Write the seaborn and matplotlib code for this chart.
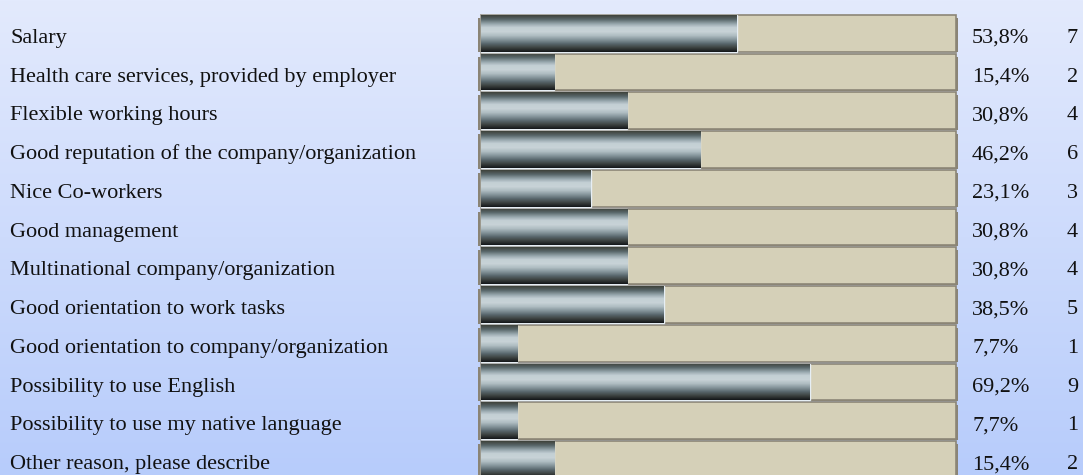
import numpy as np
import pandas as pd
import matplotlib
matplotlib.use("Agg")
import matplotlib.pyplot as plt
import matplotlib.transforms as mtransforms
from matplotlib.patches import Rectangle
from matplotlib.colors import LinearSegmentedColormap
import seaborn as sns

reasons = [
    "Salary",
    "Health care services, provided by employer",
    "Flexible working hours",
    "Good reputation of the company/organization",
    "Nice Co-workers",
    "Good management",
    "Multinational company/organization",
    "Good orientation to work tasks",
    "Good orientation to company/organization",
    "Possibility to use English",
    "Possibility to use my native language",
    "Other reason, please describe",
]
percents = [53.8, 15.4, 30.8, 46.2, 23.1, 30.8, 30.8, 38.5, 7.7, 69.2, 7.7, 15.4]
counts = [7, 2, 4, 6, 3, 4, 4, 5, 1, 9, 1, 2]

df = pd.DataFrame({"reason": reasons, "pct": percents, "n": counts, "full": 100})

sns.set_theme(style="white")
plt.rcParams["font.family"] = ["Liberation Serif", "DejaVu Serif"]

W, H = 1083, 475
fig = plt.figure(figsize=(W / 100, H / 100), dpi=100)

# light-to-blue background gradient
bg = fig.add_axes([0, 0, 1, 1], zorder=0)
grad = np.linspace(0, 1, 256).reshape(-1, 1)
bg_cmap = LinearSegmentedColormap.from_list("bg", ["#e3eafd", "#b7ccfb"])
bg.imshow(grad, cmap=bg_cmap, aspect="auto", extent=[0, 1, 0, 1], origin="upper")
bg.set_axis_off()

# bar area in pixels: x 478..958 (value 0 at 481, 100 at 956)
x0, x1 = 478, 958
ax = fig.add_axes([x0 / W, 0, (x1 - x0) / W, 1], zorder=1)
ax.patch.set_alpha(0)

sns.barplot(data=df, y="reason", x="full", orient="h", ax=ax, width=0.95,
            color="#d5d0b8", edgecolor="#8c8677", linewidth=1.2, saturation=1)
n_track = len(ax.patches)
sns.barplot(data=df, y="reason", x="pct", orient="h", ax=ax, width=0.95,
            color="#7f8f96", edgecolor="#e6eef4", linewidth=1.0, saturation=1)

# drop shadow behind the tracks
for p in ax.patches[:n_track]:
    ax.add_patch(Rectangle((p.get_x() - 0.6, p.get_y() + 0.08),
                           p.get_width() + 1.0, p.get_height() - 0.06,
                           facecolor="#8a8476", edgecolor="none",
                           zorder=p.get_zorder() - 0.2))

# metallic gradient on the filled bars
metal = LinearSegmentedColormap.from_list(
    "metal", ["#3f433c", "#586669", "#92a2a8", "#c3cfd4", "#c8d3d7", "#b0bec3",
              "#85959b", "#5a686e", "#3c4240", "#15181a"])
vgrad = np.linspace(0, 1, 64).reshape(-1, 1)
for p in ax.patches[n_track:n_track * 2]:
    bx, by = p.get_x(), p.get_y()
    bw, bh = p.get_width(), p.get_height()
    im = ax.imshow(vgrad, cmap=metal, aspect="auto", origin="upper",
                   extent=[bx, bx + bw, by + bh, by], zorder=p.get_zorder() + 0.1)
    im.set_clip_path(p)

ax.set_xlim(-0.6, 100.4)
spacing, first = 38.75, 33.2
ax.set_ylim((H - first) / spacing, -first / spacing)
ax.set_axis_off()

trans = mtransforms.blended_transform_factory(fig.transFigure, ax.transData)
fs = 16
dy = 9.6 / spacing
for i, (lab, pc, n) in enumerate(zip(reasons, percents, counts)):
    ax.text(10 / W, i + dy, lab, transform=trans, ha="left", va="baseline",
            fontsize=fs, color="#111111")
    ax.text(972 / W, i + dy, f"{pc:.1f}%".replace(".", ","), transform=trans,
            ha="left", va="baseline", fontsize=fs, color="#111111")
    ax.text(1078 / W, i + dy, str(n), transform=trans, ha="right", va="baseline",
            fontsize=fs, color="#111111")

plt.savefig("out.png", dpi=100)
